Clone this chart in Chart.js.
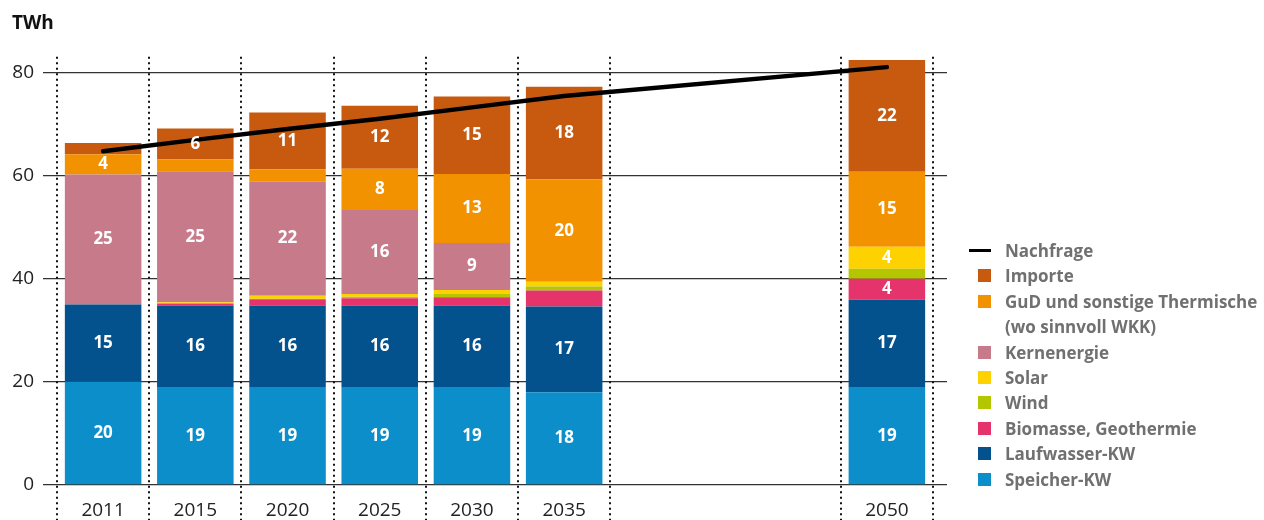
<!DOCTYPE html>
<html lang="de">
<head>
<meta charset="utf-8">
<title>Stromangebot und Nachfrage</title>
<script src="https://cdn.jsdelivr.net/npm/chart.js@4.4.1/dist/chart.umd.min.js"></script>
<style>
  html, body { margin: 0; padding: 0; background: #fff; }
  #wrap { position: relative; width: 1264px; height: 520px; font-family: "Open Sans", sans-serif; }
  #legend { position: absolute; left: 969px; top: 238px; margin: 0; padding: 0; list-style: none; }
  #legend li { position: relative; padding-left: 36px; width: 259px; font-size: 17px; font-weight: bold; color: #707070; line-height: 25.4px; }
  #legend .box { position: absolute; left: 9px; top: 6px; width: 13px; height: 13px; }
  #legend .line { position: absolute; left: 0; top: 11px; width: 22px; height: 3px; background: #000; }
</style>
</head>
<body>
<div id="wrap">
  <canvas id="chart" width="1264" height="520"></canvas>
  <ul id="legend"></ul>
</div>
<script>
// Jahre (Tick-Beschriftung) und ihre Lage auf der x-Achse (vor 2050 eine breitere Lücke)
const years = ['2011', '2015', '2020', '2025', '2030', '2035', '2050'];
const slots = [0, 1, 2, 3, 4, 5, 8.5];

// TWh
const speicher   = [20, 19, 19, 19, 19, 18, 19];
const laufwasser = [15, 15.8, 15.8, 15.8, 15.8, 16.6, 16.9];
const biomasse   = [0, 0.4, 1.2, 1.4, 1.6, 3.1, 4.1];
const wind       = [0, 0, 0.1, 0.3, 0.6, 0.8, 1.9];
const solar      = [0, 0.2, 0.6, 0.5, 0.8, 0.9, 4.3];
const kern       = [25.2, 25.4, 22.1, 16.3, 9.1, 0, 0];
const gud        = [3.9, 2.3, 2.4, 8.0, 13.4, 19.8, 14.5];
const importe    = [2.2, 6.0, 11.0, 12.2, 15.0, 18.0, 21.7];
const nachfrage  = [64.7, 66.9, 69.0, 71.0, 73.2, 75.4, 81.0];

// von unten nach oben gestapelt
const series = [
    { label: 'Speicher-KW', data: speicher, color: '#0b8ec9' },
    { label: 'Laufwasser-KW', data: laufwasser, color: '#03528d' },
    { label: 'Biomasse, Geothermie', data: biomasse, color: '#e5346b' },
    { label: 'Wind', data: wind, color: '#b3c600' },
    { label: 'Solar', data: solar, color: '#fed200' },
    { label: 'Kernenergie', data: kern, color: '#c67a8a' },
    { label: 'GuD und sonstige Thermische (wo sinnvoll WKK)', data: gud, color: '#f39200' },
    { label: 'Importe', data: importe, color: '#c85a10' }
];

const points = arr => arr.map((v, i) => ({ x: slots[i], y: v }));

// gepunktete Trennlinien zwischen den Säulen
const dottedLines = {
    id: 'dottedLines',
    beforeDatasetsDraw(chart) {
        const xs = chart.scales.x;
        const ctx = chart.ctx;
        const edges = [];
        slots.forEach(s => {
            [s - 0.5, s + 0.5].forEach(e => { if (!edges.includes(e)) edges.push(e); });
        });
        ctx.save();
        ctx.strokeStyle = '#111';
        ctx.lineWidth = 2;
        ctx.setLineDash([2, 3.5]);
        edges.forEach(e => {
            const px = Math.round(xs.getPixelForValue(e));
            ctx.beginPath();
            ctx.moveTo(px, chart.chartArea.top);
            ctx.lineTo(px, chart.height);
            ctx.stroke();
        });
        ctx.restore();
    }
};

// Werte in den Säulen
const valueLabels = {
    id: 'valueLabels',
    afterDatasetsDraw(chart) {
        const ctx = chart.ctx;
        ctx.save();
        ctx.font = 'bold 17px "Open Sans", sans-serif';
        ctx.fillStyle = '#fff';
        ctx.textAlign = 'center';
        ctx.textBaseline = 'middle';
        chart.data.datasets.forEach((ds, i) => {
            if (ds.type === 'line') return;
            chart.getDatasetMeta(i).data.forEach((bar, j) => {
                const v = ds.data[j].y;
                if (v < 3.5) return;
                ctx.fillText(Math.round(v), bar.x, (bar.y + bar.base) / 2);
            });
        });
        ctx.restore();
    }
};

Chart.defaults.font.family = '"Open Sans", sans-serif';

const datasets = [{
    type: 'line',
    label: 'Nachfrage',
    data: points(nachfrage),
    borderColor: '#000',
    borderWidth: 4.5,
    borderCapStyle: 'round',
    pointRadius: 0,
    tension: 0,
    stack: 'nachfrage',
    order: 0
}].concat(series.map(s => ({
    label: s.label,
    data: points(s.data),
    backgroundColor: s.color,
    borderWidth: 0,
    barPercentage: 0.83,
    categoryPercentage: 1,
    order: 1
})));

new Chart(document.getElementById('chart'), {
    type: 'bar',
    data: { datasets: datasets },
    options: {
        responsive: false,
        animation: false,
        devicePixelRatio: 1,
        layout: { padding: { left: 12, right: 317, top: 0, bottom: 0 } },
        plugins: {
            legend: { display: false },
            tooltip: { enabled: false },
            title: {
                display: true,
                text: 'TWh',
                align: 'start',
                color: '#111',
                font: { size: 19, weight: 'bold' },
                padding: { top: 12, bottom: 22 }
            }
        },
        scales: {
            x: {
                type: 'linear',
                stacked: true,
                offset: false,
                // Rand links/rechts, damit die Gitterlinien etwas über die Trennlinien hinausragen
                min: -0.652,
                max: 9.152,
                border: { display: false },
                grid: { display: false, drawTicks: false, offset: false },
                afterBuildTicks(scale) { scale.ticks = slots.map(v => ({ value: v })); },
                ticks: {
                    autoSkip: false,
                    maxRotation: 0,
                    padding: 14,
                    color: '#222',
                    font: { size: 19 },
                    callback: v => years[slots.indexOf(v)]
                },
                afterFit(scale) { scale.height = 35; }
            },
            y: {
                stacked: true,
                min: 0,
                max: 83,
                z: 1,
                border: { display: false },
                grid: { color: '#333', lineWidth: 1.3, drawTicks: false },
                ticks: { stepSize: 20, includeBounds: false, padding: 9, color: '#222', font: { size: 19 } },
                afterFit(scale) { scale.width = 31; }
            }
        }
    },
    plugins: [dottedLines, valueLabels]
});

// Legende: Nachfrage zuerst, dann die Säulenteile von oben nach unten
const legend = document.getElementById('legend');
const items = [{ label: 'Nachfrage', line: true }].concat(series.slice().reverse());
items.forEach(it => {
    const li = document.createElement('li');
    const mark = document.createElement('span');
    if (it.line) {
        mark.className = 'line';
    } else {
        mark.className = 'box';
        mark.style.background = it.color;
    }
    li.appendChild(mark);
    li.appendChild(document.createTextNode(it.label));
    legend.appendChild(li);
});
</script>
</body>
</html>
